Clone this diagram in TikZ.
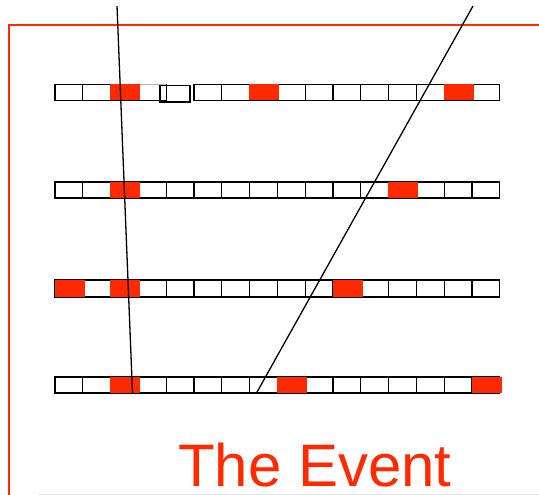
\documentclass[tikz,border=0pt]{standalone}
\usepackage{fontspec}
\setmainfont{Liberation Sans}
\definecolor{hitred}{RGB}{255,42,0}
\begin{document}
\begin{tikzpicture}[x=1pt,y=-1pt,
  cell/.style={draw=black,line width=1.3pt,minimum width=27.8pt,minimum height=16pt,inner sep=0pt,outer sep=0pt},
  hit/.style={fill=hitred,draw=none,minimum width=30pt,minimum height=16pt,inner sep=0pt,outer sep=0pt},
  track/.style={draw=black,line width=1.3pt},
  frame/.style={draw=hitred}]
\useasboundingbox (0,0) rectangle (539,495);
% frame
\coordinate (ftl) at (9,25);
\coordinate (ftr) at (539,25);
\coordinate (fbl) at (9,495);
\draw[frame,line width=1.5pt] (8,25) -- (ftr);
\draw[frame,line width=2pt] (ftl) -- (fbl);
\coordinate (gl) at (39,494);
\coordinate (gr) at (539,494);
\draw[black!10,line width=0.8pt] (gl) -- (gr);
% rows of cells
\foreach \r/\y/\h in {1/92.5/16,2/190/16,3/288.5/17,4/385/16}{
  \foreach \i in {0,...,15}{
    \ifnum\r=1 \ifnum\i=4 \else
      \node[cell,minimum height=\h pt] (r\r c\i) at ({68.9+27.8*\i},\y) {};
    \fi \else
      \node[cell,minimum height=\h pt] (r\r c\i) at ({68.9+27.8*\i},\y) {};
    \fi
  }
}
% displaced box in first row
\draw[gray!60,line width=1.3pt] (r1c3.north west) -- (r1c3.north east);
\node[cell,line width=1.5pt,minimum width=30pt,minimum height=16.5pt] (r1c4) at (175,93.8) {};
% hits
\foreach \r/\i/\y/\h in {1/2/92.5/16,1/7/92.5/16,1/14/92.5/16,
                          2/2/190/16,2/12/190/16,
                          3/0/288.5/17,3/2/288.5/17,3/10/288.5/17,
                          4/2/385/16,4/8/385/16,4/15/385/16}{
  \node[hit,minimum height=\h pt] (h\r c\i) at ({68.9+27.8*\i+0.6},\y) {};
}
% tracks
\coordinate (ta) at (117,6);
\coordinate (tb) at (132.5,393);
\coordinate (tc) at (473,6);
\coordinate (td) at (256.5,393);
\draw[track] (ta) -- (tb);
\draw[track] (tc) -- (td);
% title
\node[anchor=base,text=hitred,font=\fontsize{60}{72}\selectfont,inner sep=0pt,text depth=0pt] (title) at (315,486) {The Event};
\end{tikzpicture}
\end{document}
